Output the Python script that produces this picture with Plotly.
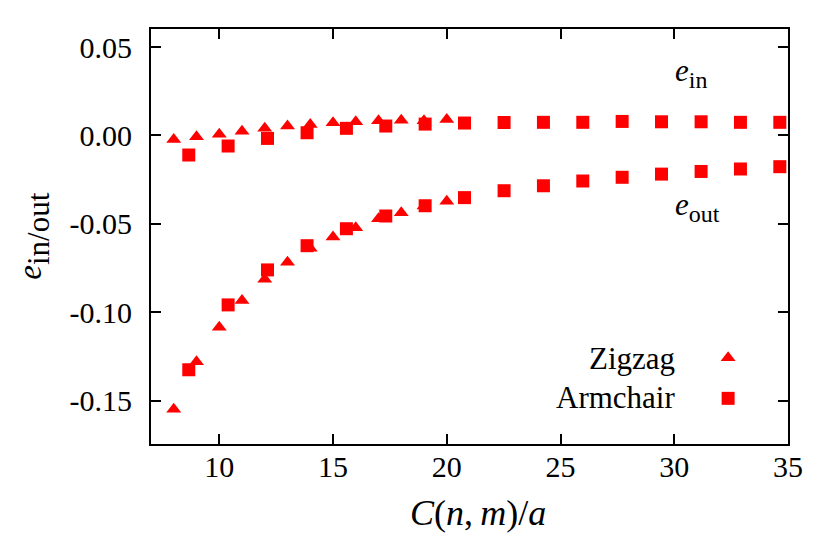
import plotly.graph_objects as go

# Zigzag (triangles)
zig_x = [8, 9, 10, 11, 12, 13, 14, 15, 16, 17, 18, 19, 20]
zig_in = [-0.0023, -0.0008, 0.0007, 0.0024, 0.0040, 0.0053, 0.0062, 0.0071, 0.0077, 0.0083, 0.0086, 0.0083, 0.0090]
zig_out = [-0.1550, -0.1280, -0.1085, -0.0934, -0.0814, -0.0718, -0.0638, -0.0575, -0.0522, -0.0471, -0.0437, -0.0400, -0.0373]

# Armchair (squares)
arm_x = [8.66, 10.39, 12.12, 13.86, 15.59, 17.32, 19.05, 20.78, 22.52, 24.25, 25.98, 27.71, 29.44, 31.18, 32.91, 34.64]
arm_in = [-0.0111, -0.0060, -0.0017, 0.0015, 0.0040, 0.0053, 0.0064, 0.0070, 0.0073, 0.0074, 0.0074, 0.0079, 0.0077, 0.0077, 0.0074, 0.0074]
arm_out = [-0.1326, -0.0959, -0.0761, -0.0624, -0.0528, -0.0456, -0.0398, -0.0352, -0.0313, -0.0285, -0.0258, -0.0237, -0.0219, -0.0204, -0.0190, -0.0177]

x_ticks = [10, 15, 20, 25, 30, 35]
y_ticks = [-0.15, -0.10, -0.05, 0.00, 0.05]
y_ticktext = ["-0.15", "-0.10", "-0.05", "0.00", "0.05"]

FONT = "Liberation Serif, Times New Roman, Times, DejaVu Serif, serif"
RED = "#ff0000"
FS = 30
FL = 31
SUB = '<sub><span style="font-size:24px">{}</span></sub>'

fig = go.Figure()
tri = dict(symbol="triangle-up", size=13, color=RED, line=dict(width=0))
sq = dict(symbol="square", size=13, color=RED, line=dict(width=0))

fig.add_trace(go.Scatter(x=zig_x, y=zig_in, mode="markers", marker=tri, showlegend=False))
fig.add_trace(go.Scatter(x=zig_x, y=zig_out, mode="markers", marker=tri, showlegend=False))
fig.add_trace(go.Scatter(x=arm_x, y=arm_in, mode="markers", marker=sq, showlegend=False))
fig.add_trace(go.Scatter(x=arm_x, y=arm_out, mode="markers", marker=sq, showlegend=False))

# legend key symbols on an overlay axis spanning the plot area
fig.add_trace(go.Scatter(x=[0.906], y=[0.208], mode="markers", marker=tri, showlegend=False,
                         xaxis="x2", yaxis="y2"))
fig.add_trace(go.Scatter(x=[0.906], y=[0.110], mode="markers", marker=sq, showlegend=False,
                         xaxis="x2", yaxis="y2"))

axis_common = dict(showline=True, linecolor="black", linewidth=2, mirror="ticks",
                   ticks="inside", ticklen=10, tickwidth=2, tickcolor="black",
                   showgrid=False, zeroline=False,
                   tickfont=dict(family=FONT, size=FS, color="black"))

fig.update_layout(
    width=830, height=554,
    margin=dict(l=143, r=50, t=21, b=118),
    paper_bgcolor="white", plot_bgcolor="white",
    font=dict(family=FONT, size=FL, color="black"),
    xaxis=dict(range=[7, 35], tickvals=x_ticks, ticklabelstandoff=-5, **axis_common),
    yaxis=dict(range=[-0.1746, 0.0602], tickvals=y_ticks, ticktext=y_ticktext,
               ticklabelstandoff=11, **axis_common),
    xaxis2=dict(range=[0, 1], overlaying="x", visible=False),
    yaxis2=dict(range=[0, 1], overlaying="y", visible=False),
    annotations=[
        dict(text="Zigzag", x=0.825, y=0.207, xref="paper", yref="paper",
             xanchor="right", yanchor="middle", showarrow=False, font=dict(size=FL)),
        dict(text="Armchair", x=0.825, y=0.111, xref="paper", yref="paper",
             xanchor="right", yanchor="middle", showarrow=False, font=dict(size=FL)),
        dict(text="<i>e</i>" + SUB.format("in"), x=0.8195, y=0.895, xref="paper", yref="paper",
             xanchor="left", yanchor="middle", showarrow=False, font=dict(size=FL)),
        dict(text="<i>e</i>" + SUB.format("out"), x=0.8195, y=0.57, xref="paper", yref="paper",
             xanchor="left", yanchor="middle", showarrow=False, font=dict(size=FL)),
        dict(text="<i>C</i>(<i>n</i>,\u2009<i>m</i>)/<i>a</i>", x=0.513, y=-0.166,
             xref="paper", yref="paper",
             xanchor="center", yanchor="middle", showarrow=False, font=dict(size=36)),
        dict(text='<span style="font-size:33px"><i>e</i></span>'
                  '<sub><span style="font-size:31px">in/out</span></sub>',
             x=-0.185, y=0.5, xref="paper", yref="paper",
             xanchor="center", yanchor="middle", textangle=-90, showarrow=False, font=dict(size=38)),
    ],
)

fig.write_html("out.html")
